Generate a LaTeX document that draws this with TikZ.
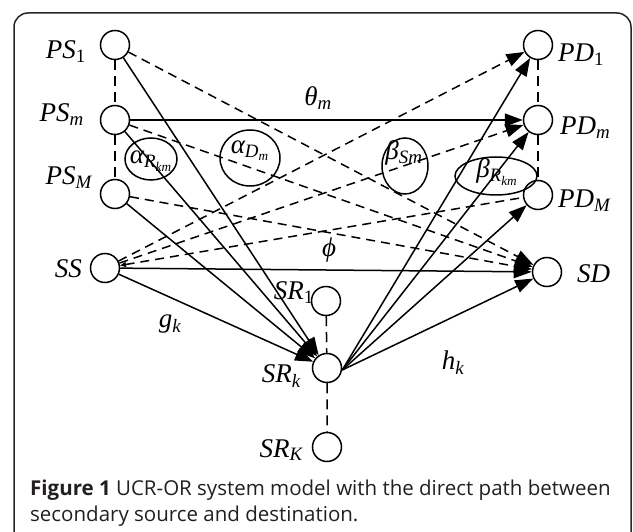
\documentclass[tikz,border=0pt]{standalone}
\usepackage{fontspec}
\setmainfont{Liberation Serif}
\newfontfamily\capfont{Open Sans}
\usetikzlibrary{arrows.meta}
\definecolor{capgray}{HTML}{231F20}
\newcommand{\sub}[1]{\textsubscript{#1}}
\begin{document}
\begin{tikzpicture}[x=1pt,y=-1pt,
  nd/.style={circle,draw,line width=1.5pt,minimum size=29pt,inner sep=0pt},
  lab/.style={font=\fontsize{27}{27}\selectfont\itshape,inner sep=0pt},
  ell/.style={draw,line width=1.5pt},
  conn/.style={line width=1.5pt},
  dconn/.style={line width=1.5pt,dash pattern=on 9pt off 6pt},
  vconn/.style={line width=1.5pt,dash pattern=on 10pt off 6pt},
  tip/.style={-{Triangle[length=18pt,width=13pt]}},
  captext/.style={font=\capfont\fontsize{20.5}{26.5}\selectfont,text=capgray,inner sep=0pt,anchor=base west}
]
\useasboundingbox (0,0) rectangle (633,532);
\draw[line width=1.5pt,rounded corners=14pt,draw=black!85] (14,13) rectangle (631,560);

% nodes
\node[nd] (PS1) at (115,45) {};
\node[nd] (PSm) at (115,120) {};
\node[nd] (PSM) at (115,194) {};
\node[nd] (SS) at (105,268) {};
\node[nd] (PD1) at (538,45) {};
\node[nd] (PDm) at (538,120) {};
\node[nd] (PDM) at (538,195) {};
\node[nd] (SD) at (547,272) {};
\node[nd] (SR1) at (326,301) {};
\node[nd] (SRk) at (327,368) {};
\node[nd] (SRK) at (327,447) {};

% node labels
\node[lab,anchor=base east] (lPS1) at (86,59) {PS\sub{\upshape 1}};
\node[lab,anchor=base east] (lPSm) at (84,122) {PS\sub{m}};
\node[lab,anchor=base east] (lPSM) at (92,185) {PS\sub{M}};
\node[lab,anchor=base east] (lSS) at (82,278) {SS};
\node[lab,anchor=base west] (lPD1) at (558,62) {PD\sub{\upshape 1}};
\node[lab,anchor=base west] (lPDm) at (560,135) {PD\sub{m}};
\node[lab,anchor=base west] (lPDM) at (558,208) {PD\sub{M}};
\node[lab,anchor=base west] (lSD) at (577,283) {SD};
\node[lab,anchor=base east] (lSR1) at (314,300) {SR\sub{\upshape 1}};
\node[lab,anchor=base east] (lSRk) at (301,383) {SR\sub{k}};
\node[lab,anchor=base east] (lSRK) at (303,457) {SR\sub{K}};

% channel labels
\node[lab,anchor=base] (theta) at (318,106) {θ\sub{m}};
\node[lab,anchor=base] (phi) at (329,257) {ϕ};
\node[lab,anchor=base] (gk) at (170,328) {g\sub{k}};
\node[lab,anchor=base] (hk) at (453,370) {h\sub{k}};

% ellipses
\draw[ell] (151,159) ellipse [x radius=26, y radius=21];
\draw[ell] (250,158) ellipse [x radius=30, y radius=28];
\draw[ell] (405,166) ellipse [x radius=23, y radius=28];
\draw[ell] (496,176) ellipse [x radius=41, y radius=19];
\node[lab,anchor=base] (aR) at (151,164) {α\sub{R\sub{km}}};
\node[lab,anchor=base] (aD) at (250,154) {α\sub{D\sub{m}}};
\node[lab,anchor=base] (bS) at (404,160) {β\sub{Sm}};
\node[lab,anchor=base] (bR) at (497,178) {β\sub{R\sub{km}}};

% vertical dashed chains
\draw[vconn] (PS1) -- (PSm) -- (PSM);
\draw[vconn] (PD1) -- (PDm) -- (PDM);
\draw[vconn] (SR1) -- (SRk) -- (SRK);

% solid connectors into SRk
\draw[conn,tip] (PS1) -- (SRk);
\draw[conn,tip] (PSm) -- (SRk);
\draw[conn,tip] (PSM) -- (SRk);
\draw[conn,tip] (SS) -- (SRk);
% solid direct
\draw[conn,tip] (PSm) -- (PDm);
\draw[conn,tip] (SS) -- (SD);
% solid from SRk
\coordinate (SRo) at ([yshift=-2pt]SRk.east);
\draw[conn,tip] (SRo) -- (PD1);
\draw[conn,tip] (SRo) -- (PDm);
\draw[conn,tip] (SRo) -- (PDM);
\draw[conn,tip] (SRo) -- (SD);
% dashed interference
\draw[dconn,tip] (PS1) -- (SD);
\draw[dconn,tip] (PSm) -- (SD);
\draw[dconn,tip] (PSM) -- (SD);
\draw[dconn,tip] (SS) -- (PD1);
\draw[dconn,tip] (SS) -- (PDm);
\draw[dconn,tip,{Triangle[length=6pt,width=5pt]}-] (SS) -- (PDM);

% caption
\node[captext] (cap1) at (30,495) {\textbf{Figure 1} UCR-OR system model with the direct path between};
\node[captext] (cap2) at (30,521.5) {secondary source and destination.};
\end{tikzpicture}
\end{document}
